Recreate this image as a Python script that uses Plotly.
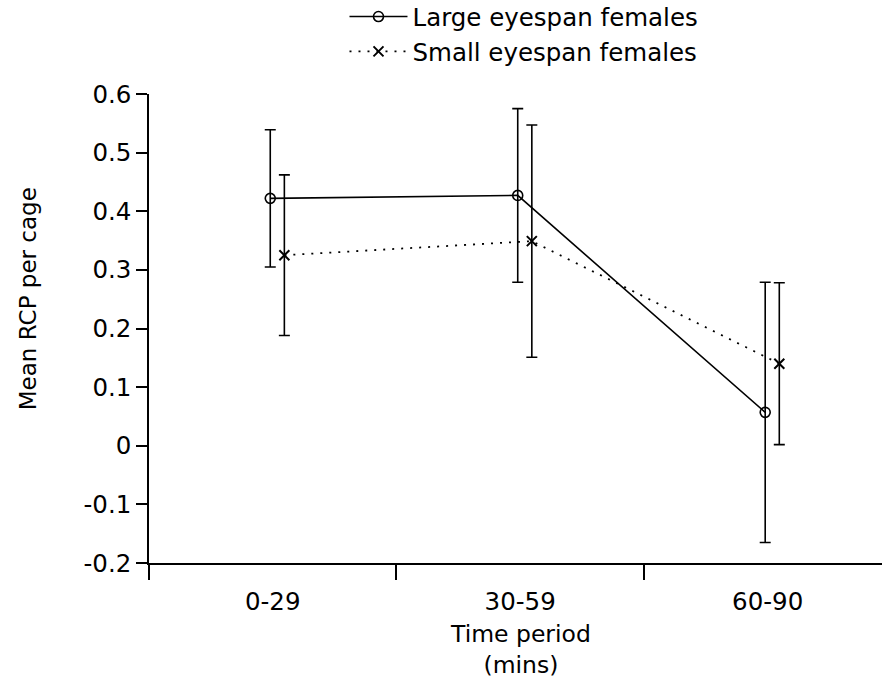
import plotly.graph_objects as go

# Time periods (categories) and mean RCP per cage with standard errors
periods = ["0-29", "30-59", "60-90"]

large_mean = [0.422, 0.427, 0.057]
large_err = [0.117, 0.148, 0.222]

small_mean = [0.325, 0.349, 0.140]
small_err = [0.137, 0.198, 0.138]

y_ticks = [-0.2, -0.1, 0, 0.1, 0.2, 0.3, 0.4, 0.5, 0.6]
y_tick_text = ["-0.2", "-0.1", "0", "0.1", "0.2", "0.3", "0.4", "0.5", "0.6"]

FONT = "DejaVu Sans, Liberation Sans, Arial, sans-serif"
FS = 24.5

# small horizontal dodge so the two series' error bars do not overlap
idx = list(range(len(periods)))
x_large = [i - 0.01 for i in idx]
x_small = [i + 0.047 for i in idx]

fig = go.Figure()

fig.add_trace(go.Scatter(
    x=x_large, y=large_mean, name="Large eyespan females",
    mode="lines+markers",
    line=dict(color="black", width=1.6),
    marker=dict(symbol="circle-open", size=10, color="black", line=dict(width=1.6)),
    error_y=dict(type="data", array=large_err, visible=True,
                 color="black", thickness=1.6, width=5.5),
))

fig.add_trace(go.Scatter(
    x=x_small, y=small_mean, name="Small eyespan females",
    mode="lines+markers",
    line=dict(color="black", width=1.8, dash="2px,7px"),
    marker=dict(symbol="x-thin-open", size=10, color="black", line=dict(width=2)),
    error_y=dict(type="data", array=small_err, visible=True,
                 color="black", thickness=1.6, width=5.5),
))

fig.update_layout(
    width=882, height=681,
    margin=dict(l=149, r=0, t=94, b=118, autoexpand=False),
    paper_bgcolor="white", plot_bgcolor="white",
    font=dict(family=FONT, size=FS, color="black"),
    showlegend=True,
    legend=dict(x=0.2667, y=1.213, xanchor="left", yanchor="top",
                itemwidth=58, bgcolor="rgba(0,0,0,0)",
                font=dict(size=FS), tracegroupgap=0),
    xaxis=dict(
        range=[-0.5, 2.462],
        tickvals=idx, ticktext=periods, ticks="",
        ticklabelstandoff=16,
        showline=True, linecolor="black", linewidth=1.5,
        showgrid=False, zeroline=False,
        minor=dict(tickvals=[-0.5, 0.5, 1.5], ticks="outside", ticklen=15,
                   tickwidth=1.5, tickcolor="black", showgrid=False),
    ),
    yaxis=dict(
        range=[-0.2, 0.6],
        tickvals=y_ticks, ticktext=y_tick_text,
        ticks="outside", ticklen=11, tickwidth=1.5, tickcolor="black",
        showline=True, linecolor="black", linewidth=1.5,
        showgrid=False, zeroline=False,
    ),
    annotations=[
        dict(text="Mean RCP per cage", textangle=-90,
             xref="paper", x=-0.165, xanchor="center",
             yref="y", y=0.25, yanchor="middle",
             showarrow=False, font=dict(size=23)),
        dict(text="Time period<br>(mins)",
             xref="x", x=1, xanchor="center",
             yref="paper", y=-0.118, yanchor="top",
             showarrow=False, font=dict(size=23.5)),
    ],
)

fig.write_html("out.html")
